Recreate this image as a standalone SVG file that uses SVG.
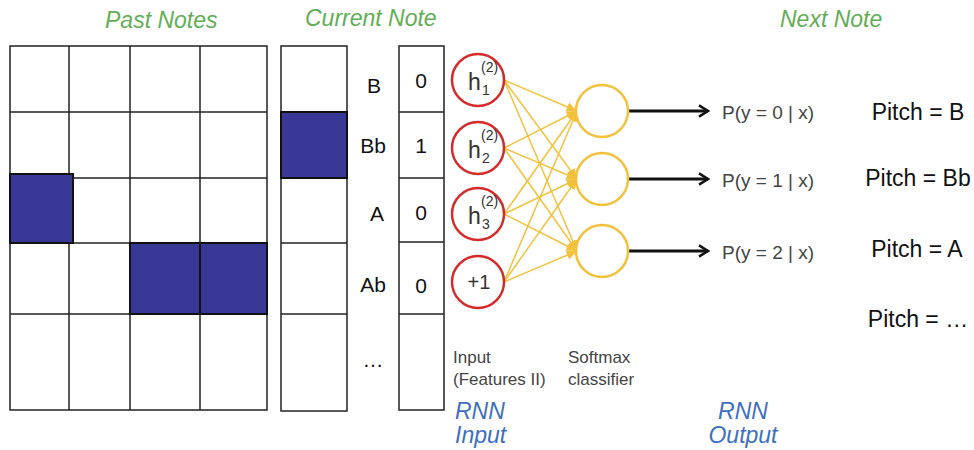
<svg xmlns="http://www.w3.org/2000/svg" width="974" height="450" viewBox="0 0 974 450">
<style>
.title{font-family:"Liberation Sans",Arial,sans-serif;font-style:italic;font-size:23px;fill:#62ad55}
.rnn{font-family:"Liberation Sans",Arial,sans-serif;font-style:italic;font-size:23px;fill:#3f6fc0}
.big{font-family:"Liberation Sans",Arial,sans-serif;font-size:21px;fill:#111}
.pitch{font-family:"Liberation Sans",Arial,sans-serif;font-size:23px;fill:#111;text-anchor:middle}
.small{font-family:"Liberation Sans",Arial,sans-serif;font-size:17px;fill:#444}
.prob{font-family:"Liberation Sans",Arial,sans-serif;font-size:19px;fill:#444}
.grid{fill:none;stroke:#222;stroke-width:1.5}
.cell{fill:#fff;stroke:#222;stroke-width:1.5}
.on{fill:#383896;stroke:#111;stroke-width:2}
.red{fill:#fff;stroke:#d62a2a;stroke-width:2.5}
.yel{fill:#fff;stroke:#f2c13d;stroke-width:2.5}
.yl{stroke:#f2c13d;stroke-width:1.5;fill:none;marker-end:url(#ya)}
.bl{stroke:#111;stroke-width:3;fill:none;marker-end:url(#ba)}
.hl{font-family:"Liberation Sans",Arial,sans-serif;fill:#333}
</style>
<defs>
<marker id="ya" viewBox="0 0 10 10" refX="10" refY="5" markerWidth="7" markerHeight="7" orient="auto" markerUnits="strokeWidth">
<path d="M0,0.5 L10,5 L0,9.5 z" fill="#f2c13d"/>
</marker>
<marker id="ba" viewBox="0 0 12 12" refX="10" refY="6" markerWidth="4.5" markerHeight="4.5" orient="auto" markerUnits="strokeWidth">
<path d="M2,1 L10,6 L2,11" fill="none" stroke="#111" stroke-width="2.2"/>
</marker>
</defs>
<rect width="974" height="450" fill="#fff"/>

<text class="title" x="105" y="28">Past Notes</text>
<text class="title" x="305" y="26">Current Note</text>
<text class="title" x="780" y="27">Next Note</text>

<g id="past-notes">
<rect class="cell" x="10" y="46" width="257" height="364"/>
<line class="grid" x1="69" y1="46" x2="69" y2="410"/>
<line class="grid" x1="130" y1="46" x2="130" y2="410"/>
<line class="grid" x1="200" y1="46" x2="200" y2="410"/>
<line class="grid" x1="10" y1="112" x2="267" y2="112"/>
<line class="grid" x1="10" y1="178" x2="267" y2="178"/>
<line class="grid" x1="10" y1="243" x2="267" y2="243"/>
<line class="grid" x1="10" y1="314" x2="267" y2="314"/>
<rect class="on" x="10" y="174" width="63" height="69"/>
<rect class="on" x="130" y="243" width="70" height="71"/>
<rect class="on" x="200" y="243" width="67" height="71"/>
</g>

<g id="current-note">
<rect class="cell" x="281" y="46" width="66" height="365"/>
<line class="grid" x1="281" y1="243" x2="347" y2="243"/>
<line class="grid" x1="281" y1="314" x2="347" y2="314"/>
<rect class="on" x="281" y="112" width="66" height="66" stroke-width="2.5"/>
</g>

<g id="pitch-labels">
<text class="big" x="374" y="93" text-anchor="middle">B</text>
<text class="big" x="373" y="153" text-anchor="middle">Bb</text>
<text class="big" x="377" y="221" text-anchor="middle">A</text>
<text class="big" x="373" y="292" text-anchor="middle">Ab</text>
<text class="big" x="373" y="367" text-anchor="middle">…</text>
</g>

<g id="one-hot">
<rect class="cell" x="399" y="46" width="45" height="364"/>
<line class="grid" x1="399" y1="112" x2="444" y2="112"/>
<line class="grid" x1="399" y1="178" x2="444" y2="178"/>
<line class="grid" x1="399" y1="242" x2="444" y2="242"/>
<line class="grid" x1="399" y1="314" x2="444" y2="314"/>
<text class="big" x="421" y="88" text-anchor="middle">0</text>
<text class="big" x="421" y="153" text-anchor="middle">1</text>
<text class="big" x="421" y="220" text-anchor="middle">0</text>
<text class="big" x="421" y="293" text-anchor="middle">0</text>
</g>

<g id="connectors">
<line class="yl" x1="504" y1="80" x2="577" y2="111"/>
<line class="yl" x1="504" y1="80" x2="577" y2="179"/>
<line class="yl" x1="504" y1="80" x2="577" y2="251"/>
<line class="yl" x1="504" y1="148" x2="577" y2="111"/>
<line class="yl" x1="504" y1="148" x2="577" y2="179"/>
<line class="yl" x1="504" y1="148" x2="577" y2="251"/>
<line class="yl" x1="504" y1="214" x2="577" y2="111"/>
<line class="yl" x1="504" y1="214" x2="577" y2="179"/>
<line class="yl" x1="504" y1="214" x2="577" y2="251"/>
<line class="yl" x1="504" y1="282" x2="577" y2="111"/>
<line class="yl" x1="504" y1="282" x2="577" y2="179"/>
<line class="yl" x1="504" y1="282" x2="577" y2="251"/>
<line class="bl" x1="629" y1="111" x2="708" y2="111"/>
<line class="bl" x1="629" y1="179" x2="708" y2="179"/>
<line class="bl" x1="629" y1="251" x2="708" y2="251"/>
</g>

<g id="h1">
<circle class="red" cx="478" cy="80" r="26"/>
<text class="hl" x="468" y="90" font-size="23">h</text>
<text class="hl" x="481" y="72" font-size="14">(2)</text>
<text class="hl" x="482" y="95" font-size="14">1</text>
</g>
<g id="h2">
<circle class="red" cx="478" cy="148" r="26"/>
<text class="hl" x="468" y="158" font-size="23">h</text>
<text class="hl" x="481" y="140" font-size="14">(2)</text>
<text class="hl" x="482" y="163" font-size="14">2</text>
</g>
<g id="h3">
<circle class="red" cx="478" cy="214" r="26"/>
<text class="hl" x="468" y="224" font-size="23">h</text>
<text class="hl" x="481" y="206" font-size="14">(2)</text>
<text class="hl" x="482" y="229" font-size="14">3</text>
</g>
<g id="bias">
<circle class="red" cx="478" cy="282" r="26"/>
<text class="hl" x="479" y="289" font-size="20" text-anchor="middle">+1</text>
</g>

<g id="softmax1"><circle class="yel" cx="602" cy="111" r="26"/></g>
<g id="softmax2"><circle class="yel" cx="602" cy="179" r="26"/></g>
<g id="softmax3"><circle class="yel" cx="602" cy="251" r="26"/></g>

<g id="probs">
<text class="prob" x="722" y="119">P(y = 0 | x)</text>
<text class="prob" x="722" y="187">P(y = 1 | x)</text>
<text class="prob" x="722" y="259">P(y = 2 | x)</text>
</g>

<g id="next-pitches">
<text class="pitch" x="918" y="120">Pitch = B</text>
<text class="pitch" x="918" y="186">Pitch = Bb</text>
<text class="pitch" x="917" y="257">Pitch = A</text>
<text class="pitch" x="918" y="327">Pitch = …</text>
</g>

<g id="layer-labels">
<text class="small" x="453" y="363">Input</text>
<text class="small" x="453" y="385">(Features II)</text>
<text class="small" x="568" y="363">Softmax</text>
<text class="small" x="568" y="385">classifier</text>
</g>

<g id="rnn-labels">
<text class="rnn" x="455" y="419">RNN</text>
<text class="rnn" x="455" y="443">Input</text>
<text class="rnn" x="743" y="419" text-anchor="middle">RNN</text>
<text class="rnn" x="743" y="443" text-anchor="middle">Output</text>
</g>
</svg>
